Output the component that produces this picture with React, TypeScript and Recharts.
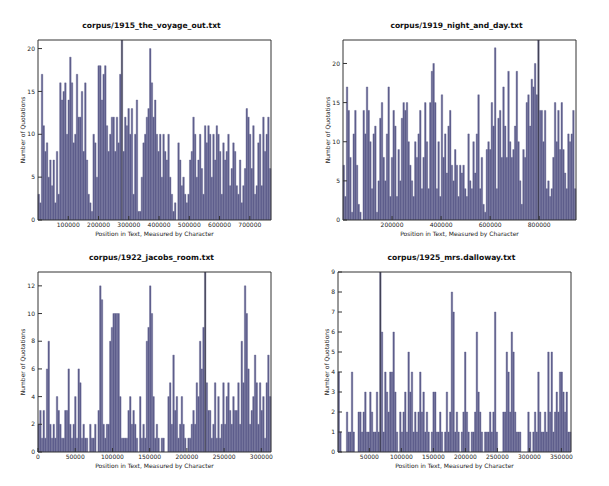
import { BarChart, Bar, XAxis, YAxis, Cell, Label } from "recharts";

// quotation counts per bin, read left to right off each histogram
const voyageOutCounts = [
  3, 2, 17, 11, 8, 9, 5, 7, 4, 7, 2, 8, 3, 16, 14, 15, 16, 10,
  14, 19, 16, 9, 10, 17, 12, 12, 15, 8, 16, 7, 3, 2, 1, 10, 9, 5,
  18, 18, 14, 17, 18, 11, 8, 10, 12, 12, 8, 12, 9, 17, 21, 8, 12, 11,
  13, 10, 13, 3, 10, 14, 1, 1, 5, 9, 10, 12, 13, 20, 16, 12, 14, 10,
  8, 10, 5, 10, 8, 7, 10, 5, 3, 1, 2, 0, 9, 7, 4, 5, 3, 2,
  3, 7, 8, 12, 10, 5, 7, 10, 6, 3, 11, 9, 11, 10, 5, 10, 7, 11,
  10, 8, 3, 9, 7, 8, 10, 4, 6, 9, 8, 4, 3, 7, 2, 4, 6, 13,
  12, 10, 6, 11, 3, 4, 9, 10, 4, 12, 8, 10, 12, 6,
];

const nightAndDayCounts = [
  7, 3, 17, 14, 8, 1, 11, 14, 7, 2, 1, 0, 14, 11, 17, 14, 10, 4,
  11, 12, 1, 5, 13, 15, 8, 5, 11, 17, 3, 8, 14, 12, 3, 9, 5, 13,
  15, 14, 15, 10, 7, 5, 3, 10, 8, 11, 14, 4, 8, 15, 10, 4, 15, 19,
  20, 15, 4, 10, 3, 16, 8, 11, 6, 12, 14, 7, 5, 9, 7, 3, 7, 6,
  7, 4, 3, 11, 5, 4, 10, 6, 11, 16, 4, 8, 2, 1, 9, 10, 9, 15,
  12, 22, 4, 13, 14, 8, 17, 12, 8, 19, 10, 8, 9, 12, 19, 10, 5, 2,
  9, 8, 15, 16, 12, 18, 17, 20, 16, 23, 14, 14, 10, 14, 4, 5, 3, 4,
  8, 15, 10, 14, 9, 15, 9, 6, 4, 11, 10, 11, 14, 4,
];

const jacobsRoomCounts = [
  2, 3, 1, 3, 1, 6, 8, 2, 1, 2, 1, 4, 3, 2, 1, 1, 3, 3,
  6, 2, 1, 2, 4, 1, 6, 5, 1, 2, 1, 1, 0, 2, 1, 1, 2, 0,
  3, 12, 11, 2, 1, 2, 2, 8, 9, 10, 10, 10, 10, 4, 1, 1, 1, 1,
  3, 4, 2, 3, 2, 1, 0, 4, 1, 2, 1, 8, 9, 12, 10, 4, 1, 2,
  1, 0, 1, 1, 0, 0, 4, 5, 2, 7, 3, 4, 1, 2, 4, 2, 1, 0,
  1, 1, 2, 3, 2, 5, 4, 8, 6, 9, 13, 5, 3, 3, 1, 2, 5, 1,
  4, 1, 2, 5, 2, 4, 5, 3, 2, 4, 3, 3, 5, 2, 8, 5, 12, 10,
  6, 2, 3, 4, 7, 5, 2, 5, 3, 4, 1, 5, 7, 4,
];

const dallowayCounts = [
  4, 1, 0, 0, 0, 2, 1, 1, 4, 1, 0, 0, 2, 2, 1, 2, 3, 1,
  1, 3, 2, 1, 1, 3, 1, 9, 6, 1, 4, 3, 2, 4, 4, 6, 3, 1,
  0, 2, 1, 2, 3, 1, 5, 3, 4, 1, 2, 1, 2, 4, 2, 3, 1, 2,
  1, 0, 1, 3, 3, 1, 1, 2, 1, 0, 1, 3, 1, 2, 8, 7, 1, 2,
  1, 0, 1, 2, 5, 2, 1, 0, 1, 1, 2, 6, 3, 2, 1, 0, 1, 1,
  1, 2, 1, 2, 7, 1, 0, 0, 0, 2, 2, 5, 4, 2, 6, 5, 2, 1,
  1, 1, 0, 0, 0, 0, 2, 1, 0, 1, 2, 1, 4, 2, 1, 1, 2, 1,
  5, 2, 5, 1, 2, 3, 2, 4, 4, 3, 2, 3, 1, 1,
];

const voyageOutTicks = [100000, 200000, 300000, 400000, 500000, 600000, 700000];
const nightAndDayTicks = [200000, 400000, 600000, 800000];
const jacobsRoomTicks = [0, 50000, 100000, 150000, 200000, 250000, 300000];
const dallowayTicks = [50000, 100000, 150000, 200000, 250000, 300000, 350000];

const voyageOutYTicks = [0, 5, 10, 15, 20];
const nightAndDayYTicks = [0, 5, 10, 15, 20];
const jacobsRoomYTicks = [0, 2, 4, 6, 8, 10, 12];
const dallowayYTicks = [0, 1, 2, 3, 4, 5, 6, 7, 8, 9];

const BAR_COLOR = "#5f5f8d";
const PEAK_COLOR = "#3c3c4a";
const AXIS_COLOR = "#333";
const TEXT_COLOR = "#222";
const FONT = "'DejaVu Sans', sans-serif";

const PLOT_W = 233;
const PLOT_H = 180;
const PANEL_H = 243;
const Y_AXIS_W = 30;
const X_AXIS_H = 16;

interface PanelProps {
  title: string;
  counts: number[];
  xMin: number;
  xMax: number;
  xTicks: number[];
  yMax: number;
  yTicks: number[];
  left: number;
  top: number;
  width: number;
  plotLeft: number;
  plotTop: number;
  titleY: number;
  yLabelOffset: number;
}

function HistPanel({
  title,
  counts,
  xMin,
  xMax,
  xTicks,
  yMax,
  yTicks,
  left,
  top,
  width,
  plotLeft,
  plotTop,
  titleY,
  yLabelOffset,
}: PanelProps) {
  const binWidth = (xMax - xMin) / counts.length;
  const data = counts.map((count, i) => ({
    bin: i,
    pos: xMin + (i + 0.5) * binWidth,
    count,
  }));
  const peak = Math.max(...counts);
  const tickStyle = { fontSize: 6, fill: TEXT_COLOR, fontFamily: FONT };
  const labelStyle = {
    fontSize: 6,
    fill: TEXT_COLOR,
    fontFamily: FONT,
    textAnchor: "middle" as const,
  };

  return (
    <div style={{ position: "absolute", left, top, width, height: PANEL_H }}>
      {/* title */}
      <div
        style={{
          position: "absolute",
          left: plotLeft - 3,
          width: PLOT_W,
          top: titleY - 5,
          lineHeight: "10px",
          textAlign: "center",
          fontFamily: FONT,
          fontWeight: "bold",
          fontSize: 7.6,
          color: "#111",
        }}
      >
        {title}
      </div>
      <BarChart
        width={width}
        height={PANEL_H}
        data={data}
        margin={{
          top: plotTop - 1,
          left: plotLeft - Y_AXIS_W,
          right: width - plotLeft - PLOT_W - 1,
          bottom: PANEL_H - plotTop - PLOT_H - X_AXIS_H,
        }}
        barCategoryGap={0}
        barGap={0}
      >
        <XAxis
          xAxisId="num"
          dataKey="pos"
          type="number"
          domain={[xMin, xMax]}
          allowDataOverflow
          ticks={xTicks}
          interval={0}
          height={X_AXIS_H}
          tickSize={-4}
          tickMargin={7}
          stroke={AXIS_COLOR}
          tick={tickStyle}
        >
          <Label
            value="Position in Text, Measured by Character"
            position="bottom"
            offset={-4}
            style={labelStyle}
          />
        </XAxis>
        <XAxis xAxisId="bins" dataKey="bin" hide height={0} />
        <XAxis
          xAxisId="top"
          orientation="top"
          dataKey="pos"
          type="number"
          domain={[xMin, xMax]}
          allowDataOverflow
          ticks={xTicks}
          interval={0}
          height={1}
          tickSize={-4}
          tick={false}
          stroke={AXIS_COLOR}
        />
        <YAxis
          yAxisId="left"
          type="number"
          domain={[0, yMax]}
          allowDataOverflow
          ticks={yTicks}
          interval={0}
          width={Y_AXIS_W}
          tickSize={-4}
          tickMargin={7}
          stroke={AXIS_COLOR}
          tick={tickStyle}
        >
          <Label
            value="Number of Quotations"
            angle={-90}
            position="insideLeft"
            offset={Y_AXIS_W - yLabelOffset}
            style={labelStyle}
          />
        </YAxis>
        <YAxis
          yAxisId="right"
          orientation="right"
          type="number"
          domain={[0, yMax]}
          allowDataOverflow
          ticks={yTicks}
          interval={0}
          width={1}
          tickSize={-4}
          tick={false}
          stroke={AXIS_COLOR}
        />
        <Bar
          xAxisId="bins"
          yAxisId="left"
          dataKey="count"
          barSize={PLOT_W / counts.length}
          stroke={BAR_COLOR}
          strokeWidth={0.4}
          isAnimationActive={false}
        >
          {data.map((d) => (
            <Cell key={d.bin} fill={d.count === peak ? PEAK_COLOR : BAR_COLOR} />
          ))}
        </Bar>
      </BarChart>
    </div>
  );
}

export default function App() {
  return (
    <div
      style={{
        position: "absolute",
        left: 0,
        top: 0,
        width: 609,
        height: 486,
        background: "#fff",
        overflow: "hidden",
      }}
    >
      <HistPanel
        title="corpus/1915_the_voyage_out.txt"
        counts={voyageOutCounts}
        xMin={0}
        xMax={770000}
        xTicks={voyageOutTicks}
        yMax={21}
        yTicks={voyageOutYTicks}
        left={0}
        top={0}
        width={305}
        plotLeft={38}
        plotTop={40}
        titleY={26}
        yLabelOffset={15}
      />
      <HistPanel
        title="corpus/1919_night_and_day.txt"
        counts={nightAndDayCounts}
        xMin={0}
        xMax={950000}
        xTicks={nightAndDayTicks}
        yMax={23}
        yTicks={nightAndDayYTicks}
        left={305}
        top={0}
        width={304}
        plotLeft={38}
        plotTop={40}
        titleY={26}
        yLabelOffset={15}
      />
      <HistPanel
        title="corpus/1922_jacobs_room.txt"
        counts={jacobsRoomCounts}
        xMin={0}
        xMax={313000}
        xTicks={jacobsRoomTicks}
        yMax={13}
        yTicks={jacobsRoomYTicks}
        left={0}
        top={243}
        width={305}
        plotLeft={38}
        plotTop={29}
        titleY={15}
        yLabelOffset={15}
      />
      <HistPanel
        title="corpus/1925_mrs.dalloway.txt"
        counts={dallowayCounts}
        xMin={1000}
        xMax={365000}
        xTicks={dallowayTicks}
        yMax={9}
        yTicks={dallowayYTicks}
        left={305}
        top={243}
        width={304}
        plotLeft={33}
        plotTop={29}
        titleY={15}
        yLabelOffset={11}
      />
    </div>
  );
}
